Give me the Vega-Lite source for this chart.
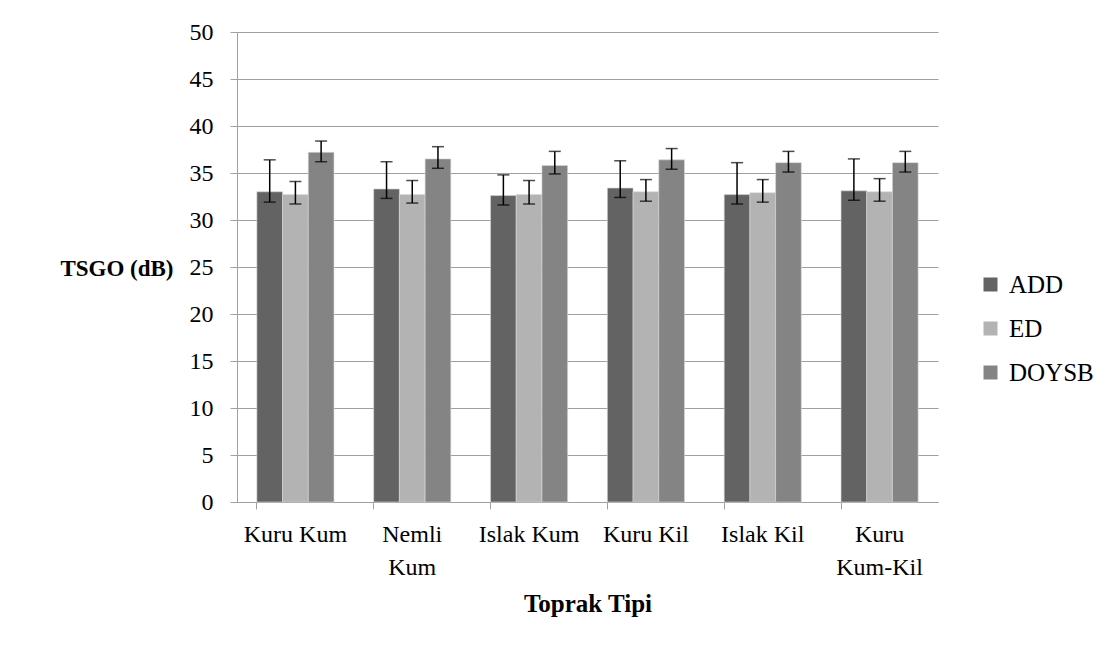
{
  "$schema": "https://vega.github.io/schema/vega-lite/v6.json",
  "autosize": "none",
  "width": 701,
  "height": 470,
  "padding": {"left": 237, "top": 32, "right": 172, "bottom": 150},
  "background": "white",
  "config": {
    "view": {"stroke": null},
    "font": "Liberation Serif",
    "axis": {"labelFont": "Liberation Serif", "titleFont": "Liberation Serif", "labelColor": "black", "titleColor": "black"},
    "legend": {"labelFont": "Liberation Serif"}
  },
  "data": {
    "values": [
      {"soil": "Kuru Kum", "method": "ADD", "value": 33.0, "low": 31.9, "high": 36.4},
      {"soil": "Kuru Kum", "method": "ED", "value": 32.7, "low": 31.7, "high": 34.1},
      {"soil": "Kuru Kum", "method": "DOYSB", "value": 37.2, "low": 36.2, "high": 38.4},
      {"soil": "Nemli Kum", "method": "ADD", "value": 33.3, "low": 32.3, "high": 36.2},
      {"soil": "Nemli Kum", "method": "ED", "value": 32.7, "low": 31.8, "high": 34.2},
      {"soil": "Nemli Kum", "method": "DOYSB", "value": 36.5, "low": 35.5, "high": 37.8},
      {"soil": "Islak Kum", "method": "ADD", "value": 32.6, "low": 31.6, "high": 34.8},
      {"soil": "Islak Kum", "method": "ED", "value": 32.7, "low": 31.7, "high": 34.2},
      {"soil": "Islak Kum", "method": "DOYSB", "value": 35.8, "low": 34.9, "high": 37.3},
      {"soil": "Kuru Kil", "method": "ADD", "value": 33.4, "low": 32.4, "high": 36.3},
      {"soil": "Kuru Kil", "method": "ED", "value": 33.0, "low": 32.0, "high": 34.3},
      {"soil": "Kuru Kil", "method": "DOYSB", "value": 36.4, "low": 35.4, "high": 37.6},
      {"soil": "Islak Kil", "method": "ADD", "value": 32.7, "low": 31.7, "high": 36.1},
      {"soil": "Islak Kil", "method": "ED", "value": 32.9, "low": 31.9, "high": 34.3},
      {"soil": "Islak Kil", "method": "DOYSB", "value": 36.1, "low": 35.1, "high": 37.3},
      {"soil": "Kuru Kum-Kil", "method": "ADD", "value": 33.1, "low": 32.1, "high": 36.5},
      {"soil": "Kuru Kum-Kil", "method": "ED", "value": 33.0, "low": 32.0, "high": 34.4},
      {"soil": "Kuru Kum-Kil", "method": "DOYSB", "value": 36.1, "low": 35.1, "high": 37.3}
    ]
  },
  "encoding": {
    "x": {
      "field": "soil",
      "type": "nominal",
      "sort": ["Kuru Kum", "Nemli Kum", "Islak Kum", "Kuru Kil", "Islak Kil", "Kuru Kum-Kil"],
      "scale": {"paddingInner": 0.34, "paddingOuter": 0.17},
      "axis": {
        "title": "Toprak Tipi",
        "titleFontSize": 25,
        "titleFontWeight": "bold",
        "titlePadding": 12,
        "labelAngle": 0,
        "labelFontSize": 24,
        "labelPadding": 13,
        "labelLineHeight": 33,
        "labelOverlap": false,
        "labelExpr": "datum.value == 'Nemli Kum' ? ['Nemli', 'Kum'] : datum.value == 'Kuru Kum-Kil' ? ['Kuru', 'Kum-Kil'] : datum.value",
        "bandPosition": 0,
        "tickSize": 7,
        "tickColor": "#a0a0a0",
        "domainColor": "#a0a0a0",
        "grid": false
      }
    },
    "xOffset": {
      "field": "method",
      "type": "nominal",
      "scale": {"domain": ["ADD", "ED", "DOYSB"], "paddingInner": 0, "paddingOuter": 0}
    }
  },
  "layer": [
    {
      "mark": {"type": "bar", "stroke": "#d8d8d8", "strokeWidth": 0.6},
      "encoding": {
        "y": {
          "field": "value",
          "type": "quantitative",
          "scale": {"domain": [0, 50], "nice": false},
          "axis": {
            "values": [0, 5, 10, 15, 20, 25, 30, 35, 40, 45, 50],
            "title": "TSGO (dB)",
            "titleAngle": 0,
            "titleFontSize": 23,
            "titleFontWeight": "bold",
            "titleAlign": "right",
            "titleBaseline": "middle",
            "titleX": -64,
            "titleY": 236,
            "labelFontSize": 24,
            "labelPadding": 17,
            "tickSize": 7,
            "tickColor": "#a0a0a0",
            "domainColor": "#a0a0a0",
            "gridColor": "#a0a0a0",
            "gridWidth": 1.2
          }
        },
        "color": {
          "field": "method",
          "type": "nominal",
          "scale": {"domain": ["ADD", "ED", "DOYSB"], "range": ["#636363", "#b3b3b3", "#848484"]},
          "legend": {
            "title": null,
            "orient": "none",
            "legendX": 741,
            "legendY": 240,
            "padding": 0,
            "symbolType": "square",
            "symbolSize": 196,
            "symbolStrokeWidth": 0,
            "labelFontSize": 25,
            "labelColor": "black",
            "labelOffset": 6,
            "rowPadding": 18
          }
        }
      }
    },
    {
      "mark": {"type": "rule", "color": "black", "strokeWidth": 1.5},
      "encoding": {
        "y": {"field": "low", "type": "quantitative"},
        "y2": {"field": "high"}
      }
    },
    {
      "mark": {"type": "tick", "color": "black", "thickness": 1.5, "size": 12, "orient": "horizontal"},
      "encoding": {
        "y": {"field": "low", "type": "quantitative"}
      }
    },
    {
      "mark": {"type": "tick", "color": "black", "thickness": 1.5, "size": 12, "orient": "horizontal"},
      "encoding": {
        "y": {"field": "high", "type": "quantitative"}
      }
    }
  ]
}
